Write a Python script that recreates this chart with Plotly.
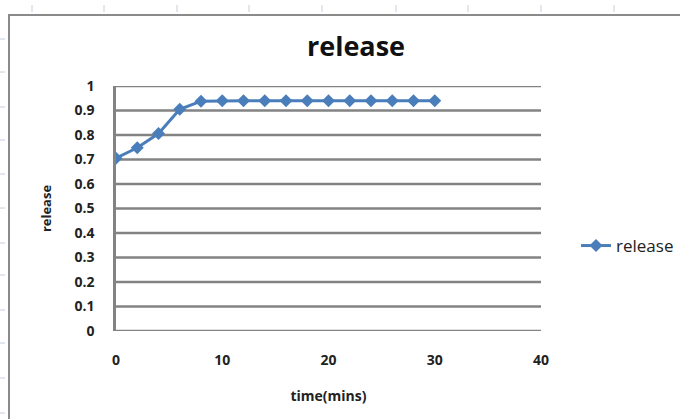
import plotly.graph_objects as go

# Release measured over time
time_mins = [0, 2, 4, 6, 8, 10, 12, 14, 16, 18, 20, 22, 24, 26, 28, 30]
release = [0.705, 0.748, 0.806, 0.905, 0.938, 0.94, 0.94, 0.94, 0.94, 0.94,
           0.94, 0.94, 0.94, 0.94, 0.94, 0.94]

y_ticks = [0, 0.1, 0.2, 0.3, 0.4, 0.5, 0.6, 0.7, 0.8, 0.9, 1]
y_labels = ["0", "0.1", "0.2", "0.3", "0.4", "0.5", "0.6", "0.7", "0.8", "0.9", "1"]
x_ticks = [0, 10, 20, 30, 40]

W, H = 680, 419
L, R, T, B = 116, 139, 86, 88
PW, PH = W - L - R, H - T - B

def px(x):
    return (x - L) / PW

def py(y):
    return (H - B - y) / PH

LINE = "#4A7EBB"
GRID = "#838383"
FONT = "Open Sans, DejaVu Sans, sans-serif"

fig = go.Figure()
fig.add_trace(go.Scatter(
    x=time_mins, y=release, name="release", mode="lines+markers",
    line=dict(color=LINE, width=3),
    marker=dict(symbol="diamond", size=10, color=LINE),
))

shapes = []
# worksheet cell guides behind the chart object
for gx in [32, 104, 177, 249, 322, 396, 468, 541, 614]:
    shapes.append(dict(type="line", xref="paper", yref="paper",
                       x0=px(gx), x1=px(gx), y0=py(5), y1=py(12),
                       line=dict(color="#c5d0e0", width=1), layer="below"))
for gy in [39, 72, 107, 140, 174, 208, 243, 275, 310, 343, 378, 413]:
    shapes.append(dict(type="line", xref="paper", yref="paper",
                       x0=px(0), x1=px(5), y0=py(gy), y1=py(gy),
                       line=dict(color="#c5d0e0", width=1), layer="below"))
# chart frame
shapes.append(dict(type="rect", xref="paper", yref="paper",
                   x0=px(9), x1=px(700), y0=py(15), y1=py(440),
                   line=dict(color="#8a8a8a", width=2), fillcolor="rgba(0,0,0,0)",
                   layer="below"))
# horizontal gridlines, including the ones at 0 and 1
for v in y_ticks:
    shapes.append(dict(type="line", xref="paper", yref="y",
                       x0=0, x1=1, y0=v, y1=v,
                       line=dict(color=GRID, width=2.5), layer="below"))

fig.update_layout(
    width=W, height=H,
    margin=dict(l=L, r=R, t=T, b=B, autoexpand=False),
    paper_bgcolor="white", plot_bgcolor="white",
    font=dict(family=FONT, color="#1a1a1a"),
    title=dict(text="<b>release</b>", x=356 / W, xanchor="center",
               y=1 - 47 / H, yanchor="middle",
               font=dict(size=27, family=FONT, color="#111111")),
    shapes=shapes,
    showlegend=True,
    legend=dict(x=px(576), xanchor="left", y=py(246), yanchor="middle",
                font=dict(size=17, family=FONT, color="#222222"),
                bgcolor="rgba(0,0,0,0)"),
    xaxis=dict(range=[0, 40], tickvals=x_ticks, showgrid=False, zeroline=False,
               showline=False, ticks="", ticklabelstandoff=19,
               tickfont=dict(size=14, family=FONT, color="#222222", weight="bold"),
               title=dict(text="<b>time(mins)</b>", standoff=23,
                          font=dict(size=14, family=FONT, color="#222222"))),
    yaxis=dict(range=[0, 1], tickvals=y_ticks, ticktext=y_labels,
               showgrid=False, zeroline=False,
               showline=True, linecolor=GRID, linewidth=2.5, ticks="",
               ticklabelstandoff=16,
               tickfont=dict(size=14, family=FONT, color="#222222", weight="bold"),
               title=dict(text="<b>release</b>", standoff=20,
                          font=dict(size=13, family=FONT, color="#222222"))),
)

fig.write_html("out.html")
